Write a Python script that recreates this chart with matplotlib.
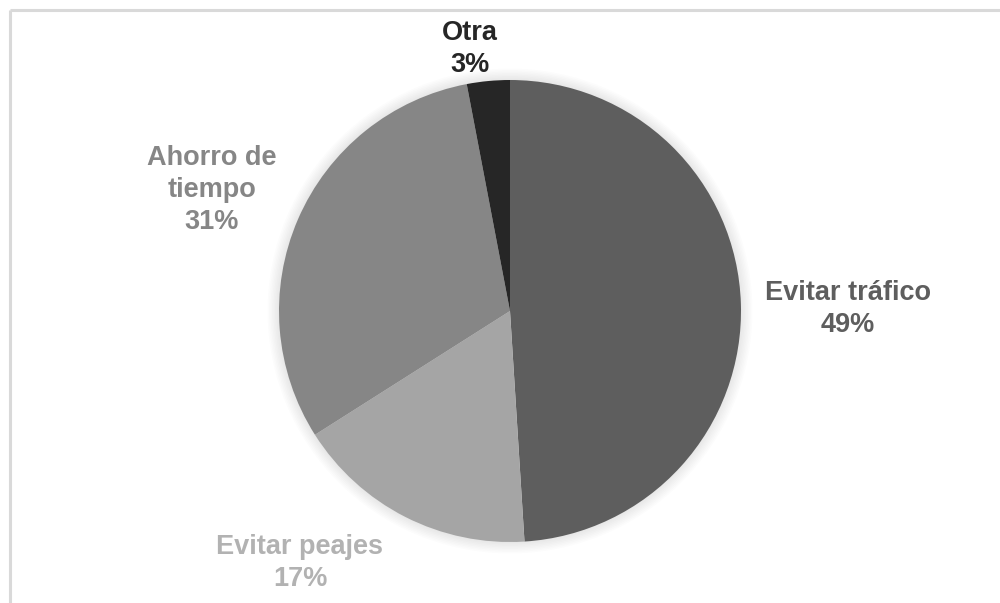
import matplotlib.pyplot as plt
from matplotlib.patches import Circle

# Datos
categorias = ["Evitar tráfico", "Evitar peajes", "Ahorro de\ntiempo", "Otra"]
valores = [49, 17, 31, 3]
colores = ["#5e5e5e", "#a5a5a5", "#868686", "#262626"]
colores_txt = ["#5e5e5e", "#b2b2b2", "#868686", "#262626"]

# posiciones de las etiquetas (en px de la figura, y hacia arriba)
pos_etiquetas = [(848, 294), (300, 40), (212, 413), (470, 554)]

plt.rcParams["font.family"] = ["Liberation Sans", "DejaVu Sans"]

fig = plt.figure(figsize=(10, 6.03), dpi=100)
ax = fig.add_axes([0, 0, 1, 1])

cx, cy, r = 510, 292, 231

# sombra suave alrededor del pie
for i in range(8):
    ax.add_patch(Circle((cx, cy), r + 1 + i * 1.5, color="black",
                        alpha=0.012, lw=0, zorder=0))

ax.pie(valores, colors=colores, startangle=90, counterclock=False,
       center=(cx, cy), radius=r, frame=True,
       wedgeprops=dict(linewidth=0, zorder=2))
ax.set_xlim(0, 1000)
ax.set_ylim(0, 603)
ax.set_aspect("equal")
ax.axis("off")

for cat, val, col, (x, y) in zip(categorias, valores, colores_txt, pos_etiquetas):
    ax.text(x, y, f"{cat}\n{val}%", ha="center", va="center", color=col,
            fontsize=19.5, fontweight="bold", linespacing=1.3)

# borde del gráfico (arriba e izquierda)
ax.plot([10, 1000], [593, 593], color="#d9d9d9", lw=2.2, solid_capstyle="butt")
ax.plot([10, 10], [593, 0], color="#d9d9d9", lw=2.2, solid_capstyle="butt")

fig.savefig("out.png", dpi=100, facecolor="white")
